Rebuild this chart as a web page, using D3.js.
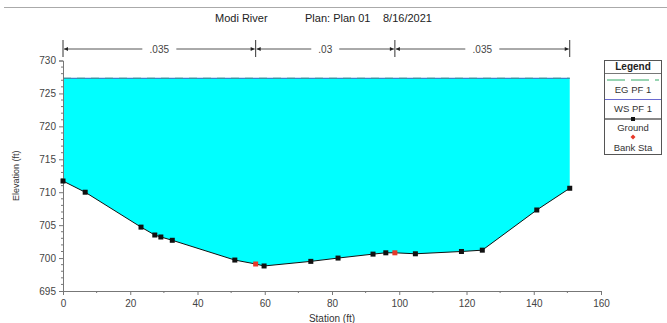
<!DOCTYPE html>
<html><head><meta charset="utf-8">
<script src="https://cdn.jsdelivr.net/npm/d3@7"></script>
<style>body{margin:0;background:#fff;}svg{display:block;font-family:"Liberation Sans",Arial,sans-serif;}</style>
</head><body><svg id="c" width="667" height="323"></svg>
<script>
const stations = [0, 6.6, 23.2, 27.3, 29.1, 32.5, 51.1, 57.3, 59.8, 73.7, 81.8, 92.2, 96.0, 98.7, 104.8, 118.5, 124.7, 140.9, 150.7];
const elevations = [711.7, 710.0, 704.7, 703.5, 703.2, 702.7, 699.7, 699.1, 698.8, 699.5, 700.0, 700.6, 700.8, 700.8, 700.65, 701.0, 701.2, 707.3, 710.6];
const bankStations = [57.3, 98.7];
const wsElev = 727.3;
const egElev = 727.32;
const manningBreaks = [0, 57.3, 98.7, 150.7];
const manningLabels = [".035", ".03", ".035"];
const xTicks = [0, 20, 40, 60, 80, 100, 120, 140, 160];
const yTicks = [695, 700, 705, 710, 715, 720, 725, 730];
const legendItems = ["EG PF 1", "WS PF 1", "Ground", "Bank Sta"];
const titleParts = ["Modi River", "Plan: Plan 01", "8/16/2021"];

const svg = d3.select("#c");
const x = d3.scaleLinear().domain([0, 160]).range([63, 601]);
const y = d3.scaleLinear().domain([695, 730]).range([291, 60.5]);
const ground = stations.map((s, i) => [s, elevations[i]]);

// top border
svg.append("line").attr("x1", 4).attr("x2", 667).attr("y1", 7.5).attr("y2", 7.5).attr("stroke", "#aaa").attr("stroke-width", 1);

// title
const tx = [215, 305, 383];
titleParts.forEach((t, i) => svg.append("text").attr("x", tx[i]).attr("y", 22).attr("font-size", 11).attr("fill", "#222").text(t));

// water fill
const last = ground[ground.length - 1];
const poly = [[0, wsElev], [last[0], wsElev]].concat(ground.slice().reverse());
svg.append("path").attr("d", d3.line().x(d => x(d[0])).y(d => y(d[1]))(poly) + "Z").attr("fill", "#00ffff");

// WS and EG lines
svg.append("line").attr("x1", x(0)).attr("x2", x(last[0])).attr("y1", y(wsElev)).attr("y2", y(wsElev)).attr("stroke", "#3a86c8").attr("stroke-width", 1.2);
svg.append("line").attr("x1", x(0)).attr("x2", x(last[0])).attr("y1", y(egElev)).attr("y2", y(egElev)).attr("stroke", "#3aa08a").attr("stroke-width", 1).attr("stroke-dasharray", "8,6").attr("opacity", 0.8);

// axes
const yAxis = d3.axisLeft(y).tickValues(yTicks).tickSize(4).tickFormat(d3.format("d"));
const gy = svg.append("g").attr("transform", `translate(${x(0)},0)`).call(yAxis);
const xAxis = d3.axisBottom(x).tickValues(xTicks).tickSize(4).tickFormat(d3.format("d"));
const gx = svg.append("g").attr("transform", `translate(0,${y(695)})`).call(xAxis);
[gx, gy].forEach(g => {
  g.select(".domain").attr("stroke", "#777");
  g.selectAll(".tick line").attr("stroke", "#777");
  g.selectAll(".tick text").attr("font-size", 10).attr("fill", "#444").attr("font-family", "Liberation Sans, Arial, sans-serif");
});
gx.selectAll(".tick text").attr("dy", "0.9em");
// minor ticks
svg.append("g").selectAll("line").data(d3.range(695, 731, 1).filter(v => v % 5 !== 0)).join("line")
  .attr("x1", x(0) - 2).attr("x2", x(0)).attr("y1", d => y(d)).attr("y2", d => y(d)).attr("stroke", "#777");
svg.append("g").selectAll("line").data(d3.range(10, 160, 20)).join("line")
  .attr("x1", d => x(d)).attr("x2", d => x(d)).attr("y1", y(695)).attr("y2", y(695) + 2).attr("stroke", "#777");

// axis titles
svg.append("text").attr("transform", `translate(19,${(y(695)+y(730))/2}) rotate(-90)`).attr("text-anchor", "middle").attr("font-size", 9).attr("fill", "#333").text("Elevation (ft)");
svg.append("text").attr("x", 332).attr("y", 322).attr("text-anchor", "middle").attr("font-size", 10).attr("fill", "#333").text("Station (ft)");

// ground line
svg.append("path").attr("d", d3.line().x(d => x(d[0])).y(d => y(d[1]))(ground)).attr("fill", "none").attr("stroke", "#111").attr("stroke-width", 1);
// markers
svg.append("g").selectAll("rect").data(ground.filter(d => !bankStations.includes(d[0]))).join("rect")
  .attr("x", d => x(d[0]) - 2.5).attr("y", d => y(d[1]) - 2.5).attr("width", 5).attr("height", 5).attr("fill", "#111");
svg.append("g").selectAll("rect").data(ground.filter(d => bankStations.includes(d[0]))).join("rect")
  .attr("x", d => x(d[0]) - 2.5).attr("y", d => y(d[1]) - 2.5).attr("width", 5).attr("height", 5).attr("fill", "#e8392a");

// Manning bar
const barY = 49;
manningLabels.forEach((lab, i) => {
  const a = x(manningBreaks[i]), b = x(manningBreaks[i + 1]), m = (a + b) / 2;
  const half = lab.length * 3 + 5;
  svg.append("line").attr("x1", a + 1).attr("x2", m - half).attr("y1", barY).attr("y2", barY).attr("stroke", "#555");
  svg.append("line").attr("x1", m + half).attr("x2", b - 1).attr("y1", barY).attr("y2", barY).attr("stroke", "#555");
  svg.append("path").attr("d", `M${a+1},${barY}l4,-2v4z`).attr("fill", "#222");
  svg.append("path").attr("d", `M${b-1},${barY}l-4,-2v4z`).attr("fill", "#222");
  svg.append("text").attr("x", m).attr("y", barY + 3.5).attr("text-anchor", "middle").attr("font-size", 10).attr("fill", "#444").text(lab);
});
manningBreaks.forEach(s => svg.append("line").attr("x1", x(s)).attr("x2", x(s)).attr("y1", barY - 9).attr("y2", barY + 8).attr("stroke", "#333"));

// legend
const lg = svg.append("g");
lg.append("rect").attr("x", 604.5).attr("y", 60.5).attr("width", 57).attr("height", 94).attr("fill", "#fff").attr("stroke", "#555");
lg.append("text").attr("x", 633).attr("y", 70).attr("text-anchor", "middle").attr("font-size", 10).attr("font-weight", "bold").attr("fill", "#222").text("Legend");
lg.append("line").attr("x1", 605).attr("x2", 661).attr("y1", 73.5).attr("y2", 73.5).attr("stroke", "#777");
lg.append("line").attr("x1", 607).attr("x2", 659).attr("y1", 80).attr("y2", 80).attr("stroke", "#33aa66").attr("stroke-dasharray", "18,6");
lg.append("line").attr("x1", 605).attr("x2", 661).attr("y1", 99.5).attr("y2", 99.5).attr("stroke", "#6a6ad0");
lg.append("line").attr("x1", 605).attr("x2", 661).attr("y1", 119).attr("y2", 119).attr("stroke", "#111");
lg.append("rect").attr("x", 631).attr("y", 117).attr("width", 4).attr("height", 4).attr("fill", "#111");
lg.append("path").attr("d", "M633,134.5l2.5,2.5l-2.5,2.5l-2.5,-2.5z").attr("fill", "#e8392a");
const ly = [93, 112, 131, 151];
legendItems.forEach((t, i) => lg.append("text").attr("x", 633).attr("y", ly[i]).attr("text-anchor", "middle").attr("font-size", 9.5).attr("fill", "#333").text(t));
</script></body></html>
